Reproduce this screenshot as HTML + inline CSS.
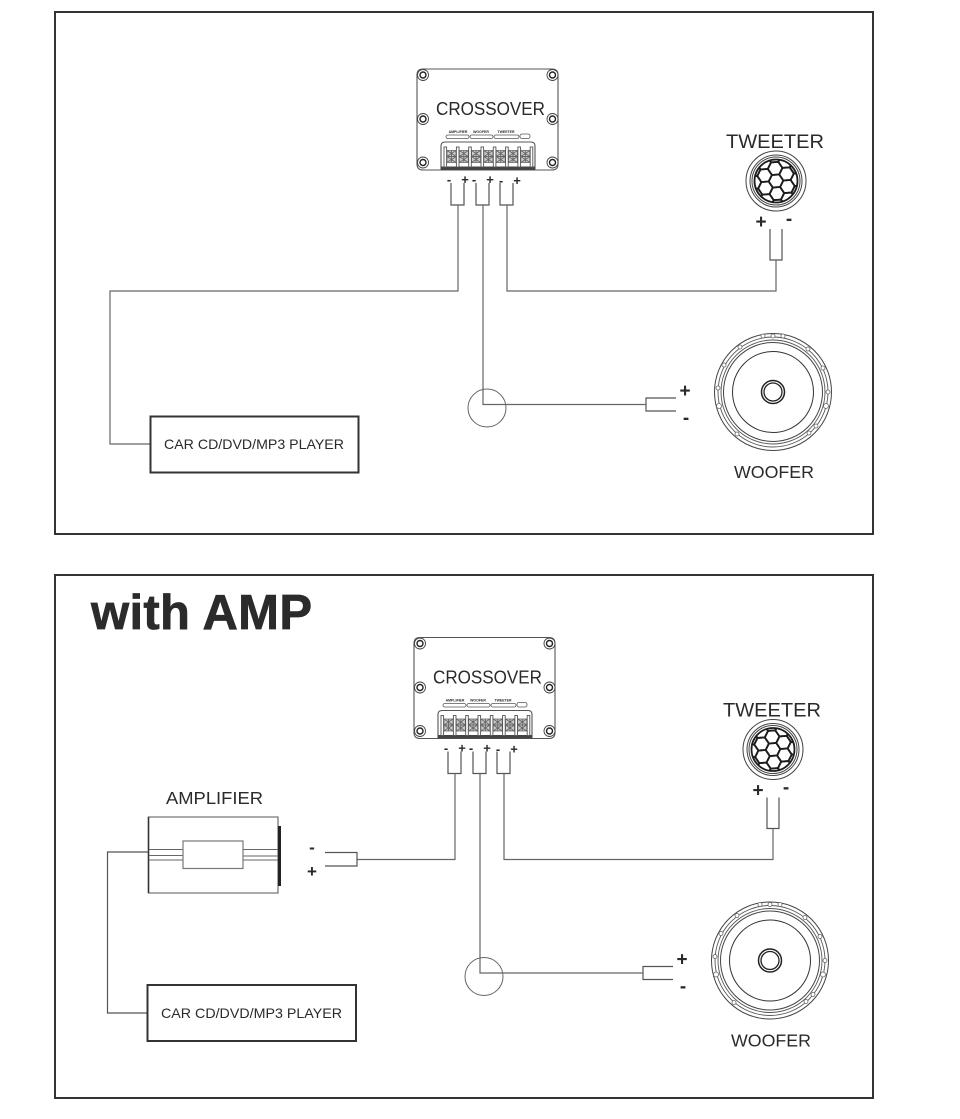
<!DOCTYPE html>
<html><head><meta charset="utf-8"><style>
html,body{margin:0;padding:0;background:#fff}
svg{display:block}
text{font-family:"Liberation Sans",sans-serif;fill:#2a2a2a}
</style></head><body>
<svg width="960" height="1119" viewBox="0 0 960 1119" xmlns="http://www.w3.org/2000/svg">
<defs>
<clipPath id="mesh"><circle cx="0" cy="0" r="21.5"/></clipPath>
<path id="hx" d="M-7.3,0L-3.6,-6.3L3.6,-6.3L7.3,0L3.6,6.3L-3.6,6.3Z" fill="none" stroke="#1c1c1c" stroke-width="1.8"/>
<g id="mount"><circle r="5.5" fill="#fff" stroke="#444" stroke-width=".9"/><circle r="3" fill="none" stroke="#222" stroke-width="1.4"/></g>
<g id="cell"><rect x="0" y="0" width="9" height="12" fill="#ccc" stroke="#555" stroke-width=".7"/><path d="M0,0L9,6L0,12M9,0L0,6L9,12M4.5,0V12M0,6H9" stroke="#666" stroke-width=".9" fill="none"/><rect x="9.4" y="-3.500" width="2.600" height="20" fill="#fff" stroke="#555" stroke-width=".9"/></g>
<g id="xo">
<path d="M423,69H552Q558,69 558,75V164Q558,170 552,170H423Q417,170 417,164V75Q417,69 423,69Z" fill="#fff" stroke="#555" stroke-width="1.1"/>
<use href="#mount" x="423" y="75"/><use href="#mount" x="552.500" y="75"/>
<use href="#mount" x="423" y="119"/><use href="#mount" x="552.500" y="119"/>
<use href="#mount" x="423" y="162.500"/><use href="#mount" x="552.500" y="162.500"/>
<path d="M441,170V146Q441,142 445,142H531Q535,142 535,146V170Z" fill="#fff" stroke="#555" stroke-width="1.100"/>
<rect x="441" y="166.500" width="94" height="3.500" fill="#444"/>
<rect x="444" y="147" width="2.600" height="20" fill="#fff" stroke="#555" stroke-width=".9"/>
<use href="#cell" x="447" y="150.500"/><use href="#cell" x="459.300" y="150.500"/><use href="#cell" x="471.600" y="150.500"/><use href="#cell" x="483.900" y="150.500"/><use href="#cell" x="496.200" y="150.500"/><use href="#cell" x="508.500" y="150.500"/><use href="#cell" x="520.800" y="150.500"/>
<rect x="446" y="135" width="23" height="3.500" rx="1.700" fill="#fff" stroke="#555" stroke-width=".8"/>
<rect x="470" y="135" width="23" height="3.500" rx="1.700" fill="#fff" stroke="#555" stroke-width=".8"/>
<rect x="494" y="135" width="25" height="3.500" rx="1.700" fill="#fff" stroke="#555" stroke-width=".8"/>
<rect x="520" y="134" width="10" height="4.500" rx="2" fill="#fff" stroke="#555" stroke-width=".8"/>
<path d="M451,183V205H464V183M476,183V205H489V183M500,183V205H513V183" fill="none" stroke="#555" stroke-width="1.2"/>
</g>
<g id="tw">
<circle cx="776" cy="181" r="30" fill="#fff" stroke="#444" stroke-width="1"/>
<circle cx="776" cy="181" r="26" fill="none" stroke="#444" stroke-width="1"/>
<circle cx="776" cy="181" r="24" fill="none" stroke="#444" stroke-width="1"/>
<circle cx="776" cy="181" r="21.500" fill="none" stroke="#1c1c1c" stroke-width="1.800"/>
<g transform="translate(776,181) rotate(-4)"><g clip-path="url(#mesh)">
<use href="#hx" x="0" y="0"/><use href="#hx" x="0" y="-12.600"/><use href="#hx" x="0" y="12.600"/><use href="#hx" x="0" y="-25.200"/><use href="#hx" x="0" y="25.200"/>
<use href="#hx" x="-11" y="-6.300"/><use href="#hx" x="-11" y="6.300"/><use href="#hx" x="-11" y="-18.900"/><use href="#hx" x="-11" y="18.900"/>
<use href="#hx" x="11" y="-6.300"/><use href="#hx" x="11" y="6.300"/><use href="#hx" x="11" y="-18.900"/><use href="#hx" x="11" y="18.900"/>
<use href="#hx" x="-22" y="0"/><use href="#hx" x="-22" y="-12.600"/><use href="#hx" x="-22" y="12.600"/>
<use href="#hx" x="22" y="0"/><use href="#hx" x="22" y="-12.600"/><use href="#hx" x="22" y="12.600"/>
</g></g>
<path d="M770,229V260H782V229" fill="none" stroke="#555" stroke-width="1.200"/>
</g>
<g id="wf">
<circle cx="773" cy="392" r="58.500" fill="#fff" stroke="#444" stroke-width="1"/>
<circle cx="773" cy="392" r="55" fill="none" stroke="#555" stroke-width=".9"/>
<circle cx="773" cy="392" r="52" fill="none" stroke="#555" stroke-width=".9"/>
<circle cx="773" cy="392" r="49.500" fill="none" stroke="#444" stroke-width="1"/>
<circle cx="773" cy="392" r="40.500" fill="none" stroke="#333" stroke-width="1"/>
<circle cx="773" cy="392" r="11.500" fill="#fff" stroke="#222" stroke-width="1.500"/>
<circle cx="773" cy="392" r="9" fill="none" stroke="#222" stroke-width="1.300"/>
<g fill="#fff" stroke="#666" stroke-width=".8"><circle cx="763" cy="336" r="2"/><circle cx="773" cy="336" r="2"/><circle cx="783" cy="336" r="2"/><circle cx="740" cy="347" r="2"/><circle cx="808" cy="349" r="2"/><circle cx="724" cy="365" r="2"/><circle cx="823" cy="368" r="2"/><circle cx="718" cy="388" r="2"/><circle cx="828" cy="392" r="2"/><circle cx="719" cy="406" r="2.500"/><circle cx="826" cy="406" r="2.500"/><circle cx="737" cy="434" r="2"/><circle cx="809" cy="433" r="2"/><circle cx="816" cy="426" r="2"/></g>
</g>
<g id="wires-c">
<circle cx="487" cy="408" r="19" fill="none" stroke="#666" stroke-width="1"/>
<path d="M676,398H646V411H676" fill="none" stroke="#555" stroke-width="1.200"/>
</g>
</defs>
<rect width="960" height="1119" fill="#fff"/>
<rect x="55" y="12" width="818" height="522" fill="none" stroke="#333" stroke-width="2"/>
<rect x="55" y="575" width="818" height="523" fill="none" stroke="#333" stroke-width="2"/>

<use href="#xo"/><use href="#tw"/><use href="#wf"/><use href="#wires-c"/>
<path d="M458,205V291H110V444H150M507,205V291H776V260M483,205V404.500H646" fill="none" stroke="#666" stroke-width="1.200"/>
<rect x="150.500" y="416.500" width="208" height="56" fill="#fff" stroke="#333" stroke-width="2"/>
<text x="164" y="449" font-size="14" textLength="180" lengthAdjust="spacingAndGlyphs">CAR CD/DVD/MP3 PLAYER</text>
<text x="436" y="115" font-size="18.500" textLength="109" lengthAdjust="spacingAndGlyphs">CROSSOVER</text>
<text x="726" y="148" font-size="19" textLength="98" lengthAdjust="spacingAndGlyphs">TWEETER</text>
<text x="734" y="478" font-size="17.500" textLength="80" lengthAdjust="spacingAndGlyphs">WOOFER</text>
<g font-size="3.500" font-weight="700" text-anchor="middle"><text x="458" y="133">AMPLIFIER</text><text x="481" y="133">WOOFER</text><text x="506" y="133">TWEETER</text></g>
<g font-size="13" font-weight="700" text-anchor="middle"><text x="449" y="184">-</text><text x="465" y="184">+</text><text x="474" y="184">-</text><text x="490" y="184">+</text><text x="501" y="185">-</text><text x="517" y="185">+</text></g>
<g font-size="19" font-weight="700" text-anchor="middle"><text x="761" y="228">+</text><text x="789" y="225">-</text><text x="685" y="397">+</text><text x="686" y="424">-</text></g>

<g transform="translate(-3,568.500)"><use href="#xo"/><use href="#tw"/><use href="#wf"/><use href="#wires-c"/>
<g font-size="3.500" font-weight="700" text-anchor="middle"><text x="458" y="133">AMPLIFIER</text><text x="481" y="133">WOOFER</text><text x="506" y="133">TWEETER</text></g>
<g font-size="13" font-weight="700" text-anchor="middle"><text x="449" y="184">-</text><text x="465" y="184">+</text><text x="474" y="184">-</text><text x="490" y="184">+</text><text x="501" y="185">-</text><text x="517" y="185">+</text></g>
<g font-size="19" font-weight="700" text-anchor="middle"><text x="761" y="228">+</text><text x="789" y="225">-</text><text x="685" y="397">+</text><text x="686" y="424">-</text></g>
<text x="436" y="115" font-size="18.500" textLength="109" lengthAdjust="spacingAndGlyphs">CROSSOVER</text>
<text x="726" y="148" font-size="19" textLength="98" lengthAdjust="spacingAndGlyphs">TWEETER</text>
<text x="734" y="478" font-size="17.500" textLength="80" lengthAdjust="spacingAndGlyphs">WOOFER</text>
</g>
<path d="M455,773.500V859.500H357M504,773.500V859.500H773V828.500M480,773.500V973H643" fill="none" stroke="#666" stroke-width="1.200"/>
<text x="91" y="629" font-size="49" font-weight="700" textLength="221" stroke="#2b2b2b" stroke-width=".7" style="fill:#2b2b2b">with AMP</text>

<text x="166" y="804" font-size="17.500" textLength="97" lengthAdjust="spacingAndGlyphs">AMPLIFIER</text>
<path d="M148.500,817H278V893H148.500Z" fill="#fff" stroke="#777" stroke-width="1.300"/>
<path d="M148.500,817V893" stroke="#333" stroke-width="1.500"/>
<rect x="278" y="826" width="3" height="60" fill="#222"/>
<path d="M149,849.500H183M149,855.500H183M149,860H183M243,849.500H278M243,856H278M243,860H278" stroke="#666" stroke-width="1.100" fill="none"/>
<rect x="183" y="841" width="60" height="27.500" fill="#fff" stroke="#777" stroke-width="1.200"/>
<path d="M148,852H107.500V1013H147" fill="none" stroke="#555" stroke-width="1.200"/>
<path d="M325,852.500H357V866H325" fill="none" stroke="#555" stroke-width="1.200"/>
<g font-size="17" font-weight="700" text-anchor="middle"><text x="312" y="853">-</text><text x="312" y="877">+</text></g>
<rect x="147.500" y="985" width="208.500" height="56" fill="#fff" stroke="#333" stroke-width="2"/>
<text x="161" y="1018" font-size="14" textLength="181" lengthAdjust="spacingAndGlyphs">CAR CD/DVD/MP3 PLAYER</text>
</svg>
</body></html>
